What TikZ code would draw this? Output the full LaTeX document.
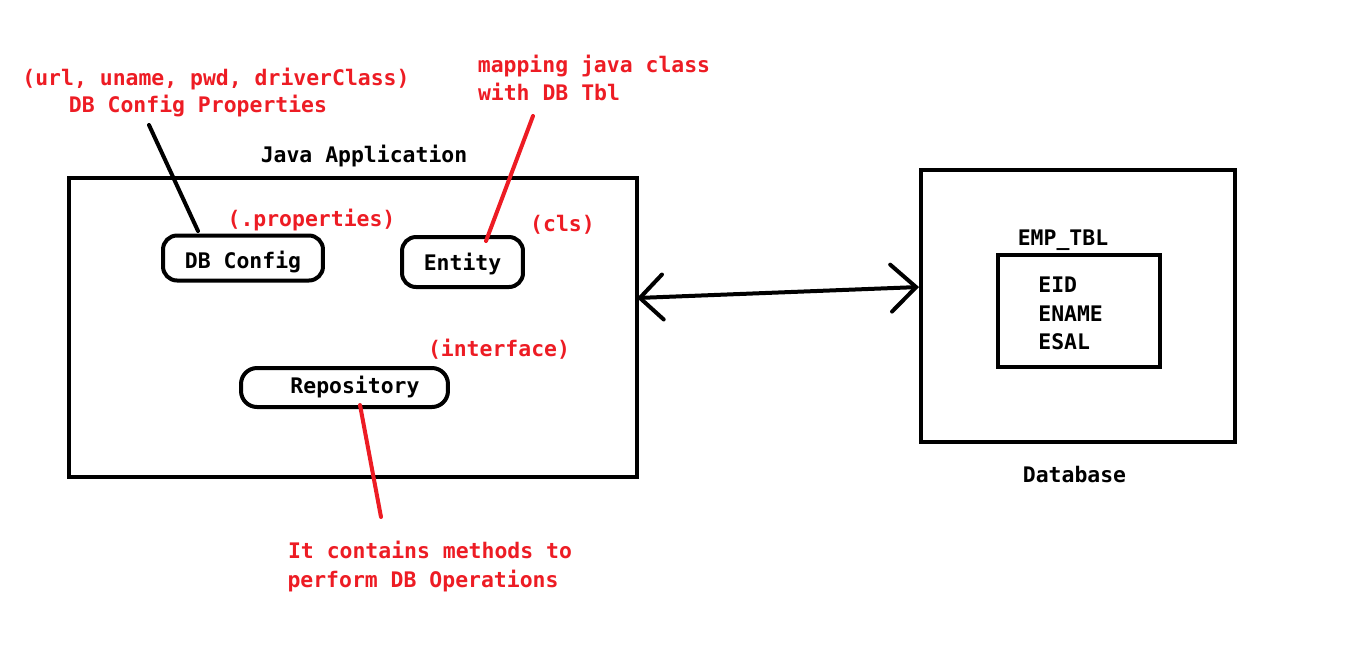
\documentclass[tikz,border=0pt]{standalone}
\usepackage{fontspec}
\setmonofont{DejaVu Sans Mono}
\usetikzlibrary{arrows.meta}
\definecolor{pred}{RGB}{237,28,36}
\begin{document}
\begin{tikzpicture}[x=0.02cm,y=-0.02cm,
 box/.style={draw,line width=0.08cm,inner sep=0pt,outer sep=0pt},
 rbox/.style={box,rounded corners=0.28cm},
 mono/.style={font=\ttfamily\bfseries\fontsize{12.2pt}{14pt}\selectfont},
 txt/.style={mono,inner sep=0pt,anchor=base},
 rtxt/.style={txt,text=pred},
 bline/.style={line width=0.08cm,line cap=round},
 rline/.style={bline,draw=pred}]
\useasboundingbox (0,0) rectangle (1359,654);
% boxes
\node[box,minimum width=11.36cm,minimum height=5.98cm] (java) at (353,327.5) {};
\node[box,minimum width=6.28cm,minimum height=5.44cm] (db) at (1078,306) {};
\node[box,minimum width=3.24cm,minimum height=2.24cm] (tbl) at (1079,311) {};
\node[rbox,mono,minimum width=3.2cm,minimum height=0.9cm,text height=0.4cm,text depth=0cm] (dbc) at (243,258) {DB Config};
\node[rbox,mono,minimum width=2.42cm,minimum height=1.0cm,text height=0.32cm,text depth=0cm] (ent) at (462.5,262) {Entity};
\node[rbox,rounded corners=0.32cm,mono,minimum width=4.14cm,minimum height=0.78cm,text height=0.22cm,text depth=0cm] (repo) at (344.5,387.5) {\hspace*{0.42cm}Repository};
% labels
\node[rtxt] (cfgA) at (216,85) {(url, uname, pwd, driverClass)};
\node[rtxt] (cfgB) at (198,112.5) {DB Config Properties};
\node[txt] (jlab) at (364,162) {Java Application};
\node[rtxt] (props) at (311.5,226) {(.properties)};
\node[rtxt] (mapA) at (594,72) {mapping java class};
\node[rtxt] (mapB) at (549,100) {with DB Tbl};
\node[rtxt] (cls) at (562.5,231) {(cls)};
\node[rtxt] (intf) at (499,356) {(interface)};
\node[rtxt] (opsA) at (430,558) {It contains methods to};
\node[rtxt] (opsB) at (423,587) {perform DB Operations};
\node[txt] (tname) at (1063,245) {EMP\_TBL};
\node[txt,anchor=base west] (f1) at (1038,292) {EID};
\node[txt,anchor=base west] (f2) at (1038,321) {ENAME};
\node[txt,anchor=base west] (f3) at (1038,349) {ESAL};
\node[txt] (dblab) at (1074.5,482) {Database};
% connectors
\coordinate (p1) at (149,125);
\coordinate (p2) at (198,231);
\draw[bline] (p1) -- (p2);
\coordinate (e1) at (533,116);
\coordinate (e2) at (486,241);
\draw[rline] (e1) -- (e2);
\coordinate (r1) at (360,405);
\coordinate (r2) at (381,517);
\draw[rline] (r1) -- (r2);
\coordinate (aL) at (637,298);
\coordinate (aR) at (919,287);
\draw[line width=0.08cm,{Straight Barb[length=0.46cm,width=0.9cm,line cap=round]}-{Straight Barb[length=0.5cm,width=0.94cm,line cap=round]}] (aL) -- (aR);
\end{tikzpicture}
\end{document}
